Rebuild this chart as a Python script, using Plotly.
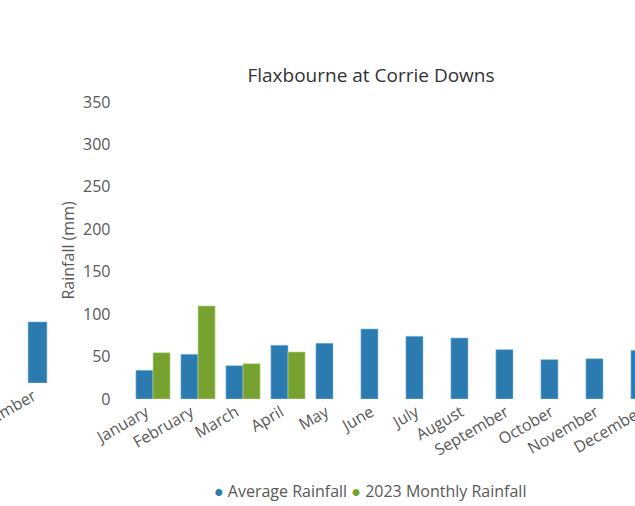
import plotly.graph_objects as go

months = ["January", "February", "March", "April", "May", "June", "July",
          "August", "September", "October", "November", "December"]
avg_rain = [33.8, 52.7, 39.3, 63.3, 65.7, 82.5, 73.9, 71.9, 58.2, 46.4, 47.5, 57.4]
rain_2023 = [54.6, 109.7, 41.6, 55.4, None, None, None, None, None, None, None, None]

# fragment of the neighbouring chart (left edge)
prev_months = ["December"]
prev_avg = [72]

y_ticks = [0, 50, 100, 150, 200, 250, 300, 350]

BLUE = "#2b7bb0"
GREEN = "#78a22f"
FONT = "Open Sans, Noto Sans, sans-serif"
TXT = "#595959"

W, H = 680, 506          # figure is wider than the 635px window (carousel overflow)
plot_top, plot_bot = 102, 399
x_left = 130.5
slot = 45.0

fig = go.Figure()
fig.add_trace(go.Bar(x=months, y=avg_rain, name="Average Rainfall",
                     marker=dict(color=BLUE, line=dict(color="#8fc0e0", width=0.6)),
                     showlegend=False, xaxis="x", yaxis="y"))
fig.add_trace(go.Bar(x=months, y=rain_2023, name="2023 Monthly Rainfall",
                     marker=dict(color=GREEN, line=dict(color="#c2dc94", width=0.6)),
                     showlegend=False, xaxis="x", yaxis="y"))
fig.add_trace(go.Bar(x=prev_months, y=prev_avg, width=[0.42],
                     marker=dict(color=BLUE, line=dict(color="#8fc0e0", width=0.6)),
                     showlegend=False, xaxis="x2", yaxis="y2"))

plot_h = plot_bot - plot_top
px_per_mm = plot_h / 350.0
x_right = x_left + slot * len(months)

frag_w = 63.5
frag_base = 383
frag_top_val = (frag_base - plot_top) / px_per_mm

fig.update_layout(
    width=W, height=H,
    margin=dict(l=0, r=0, t=plot_top, b=H - plot_bot, pad=0),
    paper_bgcolor="white", plot_bgcolor="white",
    barmode="group", bargap=0.24, bargroupgap=0,
    font=dict(family=FONT, size=16, color=TXT),
    xaxis=dict(domain=[x_left / W, x_right / W], range=[-0.5, len(months) - 0.5],
               tickangle=-30, showgrid=False, zeroline=False, showline=False,
               ticks="", automargin=False, anchor="y", ticklabelshift=-7,
               tickfont=dict(size=16, color=TXT)),
    yaxis=dict(range=[0, 350], tickvals=y_ticks, showgrid=False, zeroline=False,
               showline=False, ticks="", automargin=False, anchor="x",
               ticklabelstandoff=19,
               tickfont=dict(size=16, color=TXT)),
    xaxis2=dict(domain=[0, frag_w / W], range=[-37.5 / slot, (frag_w - 37.5) / slot],
                tickangle=-30, showgrid=False, zeroline=False, showline=False,
                ticks="", automargin=False, anchor="y2", ticklabelshift=-4,
                tickfont=dict(size=16, color=TXT)),
    yaxis2=dict(domain=[(plot_bot - frag_base) / plot_h, 1], range=[0, frag_top_val],
                showgrid=False, zeroline=False, showline=False, showticklabels=False,
                ticks="", automargin=False, anchor="x2"),
    title=dict(text="Flaxbourne at Corrie Downs", x=371 / W, xref="paper",
               xanchor="center", y=1 - 75 / H, yref="container", yanchor="middle",
               font=dict(size=19, color="#333333", family=FONT)),
    showlegend=False,
)

fig.add_annotation(
    text="Rainfall (mm)", textangle=-90,
    xref="paper", yref="paper", x=67 / W, y=0.5,
    xanchor="center", yanchor="middle", showarrow=False,
    font=dict(size=16, color=TXT, family=FONT))

fig.add_annotation(
    text=(f"<span style='color:{BLUE}'>●</span> Average Rainfall "
          f"<span style='color:{GREEN}'>●</span> 2023 Monthly Rainfall"),
    xref="paper", yref="paper", x=370 / W, y=-(491 - plot_bot) / plot_h,
    xanchor="center", yanchor="middle", showarrow=False,
    font=dict(size=16, color=TXT, family=FONT))

fig.write_html("out.html", config={"displayModeBar": False},
               post_script="document.body.style.margin='0';document.body.style.overflow='hidden';")
